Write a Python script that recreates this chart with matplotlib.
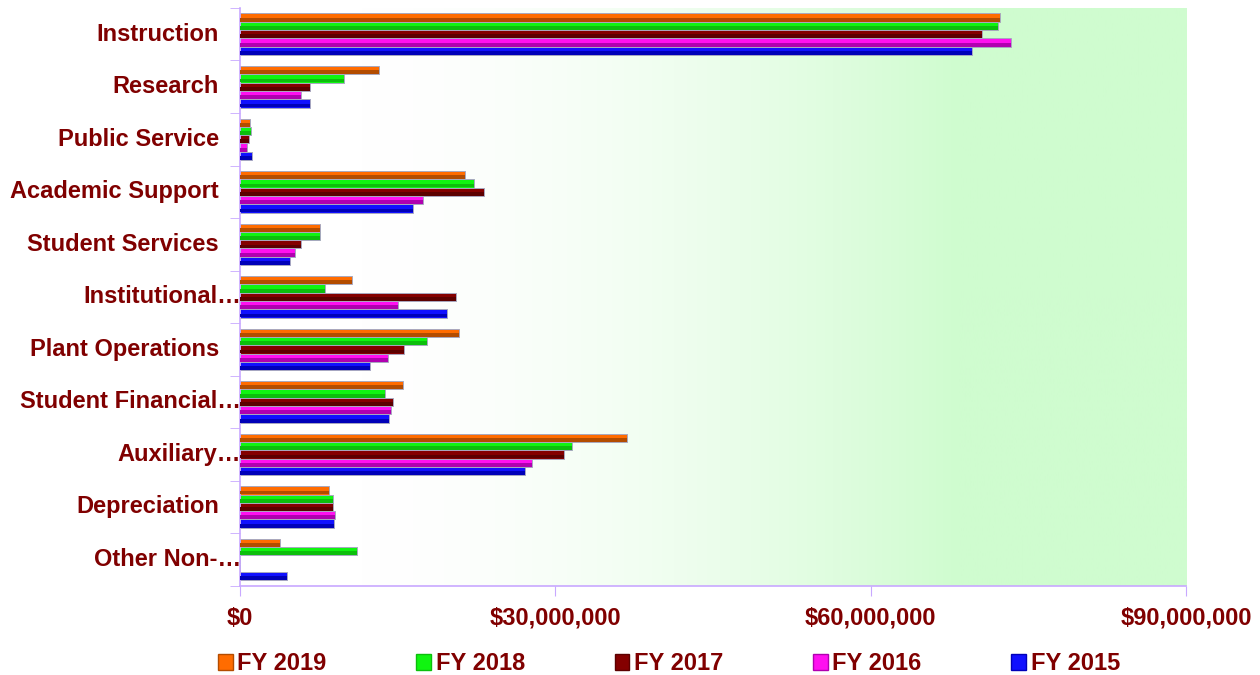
import numpy as np
import matplotlib.pyplot as plt
import matplotlib.colors as mcolors
from matplotlib.patches import Patch
from matplotlib.ticker import FuncFormatter

# Categorias (de cima para baixo)
categorias = [
    "Instruction",
    "Research",
    "Public Service",
    "Academic Support",
    "Student Services",
    "Institutional…",
    "Plant Operations",
    "Student Financial…",
    "Auxiliary…",
    "Depreciation",
    "Other Non-…",
]

anos = ["FY 2019", "FY 2018", "FY 2017", "FY 2016", "FY 2015"]

# Valores em milhões de dólares
fy2019 = [72.3, 13.2, 0.95, 21.4, 7.6, 10.7, 20.8, 15.5, 36.8, 8.5, 3.8]
fy2018 = [72.1, 9.9, 1.05, 22.3, 7.6, 8.1, 17.8, 13.8, 31.6, 8.8, 11.1]
fy2017 = [70.6, 6.7, 0.9, 23.2, 5.8, 20.5, 15.6, 14.6, 30.8, 8.85, 0]
fy2016 = [73.3, 5.8, 0.65, 17.4, 5.2, 15.0, 14.1, 14.4, 27.8, 9.05, 0]
fy2015 = [69.6, 6.7, 1.15, 16.5, 4.8, 19.7, 12.4, 14.2, 27.1, 8.9, 4.5]

series = [fy2019, fy2018, fy2017, fy2016, fy2015]

cores = ["#ff6c00", "#10f510", "#840000", "#ff10f0", "#1010ff"]
cores_escuras = ["#b34c00", "#0cbf0c", "#5c0000", "#b000b0", "#0000b8"]

vermelho = "#800000"
roxo = "#c8a8ff"

plt.rcParams["font.family"] = ["Liberation Sans", "DejaVu Sans"]
plt.rcParams["font.weight"] = "bold"

fig = plt.figure(figsize=(12.6, 6.75), dpi=100)
ax = fig.add_axes([0.1905, 0.1322, 0.7508, 0.8560])

# Fundo em degradê (branco -> verde claro)
f = np.linspace(0, 1, 400)
t = np.clip((f - 0.1) / 0.66, 0, 1) ** 1.8
fundo = mcolors.LinearSegmentedColormap.from_list("fundo", ["#ffffff", "#cffccf"])
ax.imshow(t[np.newaxis, :], extent=[0, 90e6, 10.5, -0.5], aspect="auto",
          cmap=fundo, vmin=0, vmax=1, zorder=0)

y = np.arange(len(categorias))
h = 0.158
for i, (vals, cor, escura) in enumerate(zip(series, cores, cores_escuras)):
    vals = np.array(vals) * 1e6
    pos = y + (i - 2) * h
    ax.barh(pos, vals, height=h, color=cor, edgecolor="#a8a8c0", linewidth=0.7, zorder=2)
    # faixa escura na parte de baixo (efeito 3D)
    ax.barh(pos + 0.25 * h, vals, height=0.46 * h, color=escura, linewidth=0, zorder=3)

ax.set_xlim(0, 90e6)
ax.set_ylim(10.5, -0.5)

ax.set_xticks([0, 30e6, 60e6, 90e6])
ax.xaxis.set_major_formatter(FuncFormatter(lambda v, p: f"${v:,.0f}"))
ax.tick_params(axis="x", direction="out", length=7, color=roxo,
               labelcolor=vermelho, labelsize=17, pad=8)

ax.set_yticks([])
ax.set_yticks(np.arange(-0.5, len(categorias), 1), minor=True)
ax.tick_params(axis="y", which="minor", direction="out", length=7, color=roxo)

for lado in ["top", "right"]:
    ax.spines[lado].set_visible(False)
for lado in ["left", "bottom"]:
    ax.spines[lado].set_color(roxo)
    ax.spines[lado].set_linewidth(1.2)

# Rótulos das categorias
for yi, nome in zip(y, categorias):
    x_txt = 0.001 if nome.endswith("…") else -0.0222
    ax.text(x_txt, yi, nome, transform=ax.get_yaxis_transform(), ha="right",
            va="center", fontsize=17, color=vermelho, fontweight="bold")

handles = [Patch(facecolor=c, edgecolor=e, linewidth=1) for c, e in zip(cores, cores_escuras)]
fig.legend(handles, anos, ncol=5, loc="center", bbox_to_anchor=(0.531, 0.0165),
           frameon=False, fontsize=17, handlelength=0.62, handleheight=0.62,
           handletextpad=0.2, columnspacing=3.8, labelcolor=vermelho)

fig.savefig("out.png", dpi=100)
